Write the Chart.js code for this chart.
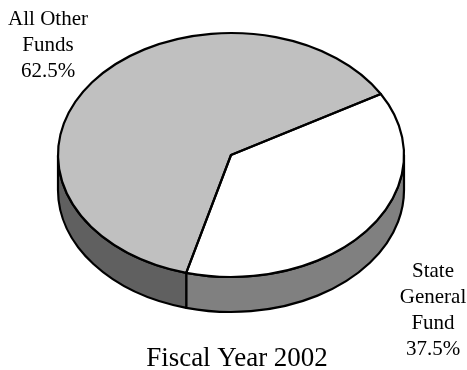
<!DOCTYPE html>
<html>
<head>
<meta charset="utf-8">
<script src="https://cdn.jsdelivr.net/npm/chart.js@4.4.1/dist/chart.umd.min.js"></script>
<style>
  html, body { margin: 0; padding: 0; background: #fff; }
  #wrap { position: relative; width: 467px; height: 370px; }
</style>
</head>
<body>
<div id="wrap"><canvas id="chart"></canvas></div>
<script>
// funds breakdown
const labels = [["State", "General", "Fund"], ["All Other", "Funds"]];
const shares = [37.5, 62.5];
const title = "Fiscal Year 2002";

const topColors = ["#ffffff", "#c0c0c0"];
const sideColors = ["#808080", "#606060"];

// 3d look
const TILT = 0.705;   // vertical squash of the disc
const LIFT = 30;      // how far the squashed disc moves up
const DEPTH = 35;     // thickness of the disc

// where each label block sits (center x, first baseline)
const labelPos = [[433, 277], [48, 25]];
const LINE = 26;

function discInfo(arc) {
  return {
    x: arc.x,
    yc: arc.y - LIFT,
    rx: arc.outerRadius,
    ry: arc.outerRadius * TILT
  };
}

const pie3d = {
  id: "pie3d",
  beforeDatasetsDraw(chart) {
    const ctx = chart.ctx;
    const arcs = chart.getDatasetMeta(0).data;

    // side walls, only the front half shows
    ctx.save();
    ctx.lineWidth = 2.2;
    ctx.strokeStyle = "#000";
    ctx.lineJoin = "round";
    arcs.forEach((arc, i) => {
      const d = discInfo(arc);
      for (const k of [-2 * Math.PI, 0, 2 * Math.PI]) {
        const lo = Math.max(arc.startAngle, k);
        const hi = Math.min(arc.endAngle, k + Math.PI);
        if (hi <= lo) continue;
        ctx.beginPath();
        ctx.ellipse(d.x, d.yc, d.rx, d.ry, 0, lo, hi);
        ctx.ellipse(d.x, d.yc + DEPTH, d.rx, d.ry, 0, hi, lo, true);
        ctx.closePath();
        ctx.fillStyle = sideColors[i];
        ctx.fill();
        ctx.stroke();
      }
    });
    ctx.restore();

    // squash the top face
    const y = arcs[0].y;
    ctx.save();
    ctx.translate(0, y - LIFT);
    ctx.scale(1, TILT);
    ctx.translate(0, -y);
  },
  afterDatasetsDraw(chart) {
    const ctx = chart.ctx;
    ctx.restore();

    // outlines of the top face
    ctx.save();
    ctx.lineWidth = 2.2;
    ctx.strokeStyle = "#000";
    ctx.lineJoin = "round";
    chart.getDatasetMeta(0).data.forEach(arc => {
      const d = discInfo(arc);
      ctx.beginPath();
      ctx.moveTo(d.x, d.yc);
      ctx.ellipse(d.x, d.yc, d.rx, d.ry, 0, arc.startAngle, arc.endAngle);
      ctx.closePath();
      ctx.stroke();
    });
    ctx.restore();
  },
  afterDraw(chart) {
    const ctx = chart.ctx;
    ctx.save();
    ctx.fillStyle = "#000";
    ctx.textAlign = "center";
    ctx.textBaseline = "alphabetic";
    ctx.font = "21px 'Liberation Serif', 'Times New Roman', serif";
    labels.forEach((lines, i) => {
      const [lx, ly] = labelPos[i];
      const all = lines.concat([shares[i].toFixed(1) + "%"]);
      all.forEach((t, j) => ctx.fillText(t, lx, ly + j * LINE));
    });
    ctx.font = "27px 'Liberation Serif', 'Times New Roman', serif";
    ctx.fillText(title, 237, 366);
    ctx.restore();
  }
};

new Chart(document.getElementById("chart"), {
  type: "pie",
  data: {
    labels: labels.map(l => l.join(" ")),
    datasets: [{
      data: shares,
      backgroundColor: topColors,
      borderWidth: 0
    }]
  },
  options: {
    responsive: true,
    maintainAspectRatio: false,
    animation: false,
    events: [],
    rotation: 60,
    layout: { padding: { left: 58, right: 63, top: 12, bottom: 12 } },
    plugins: {
      legend: { display: false },
      tooltip: { enabled: false }
    }
  },
  plugins: [pie3d]
});
</script>
</body>
</html>
